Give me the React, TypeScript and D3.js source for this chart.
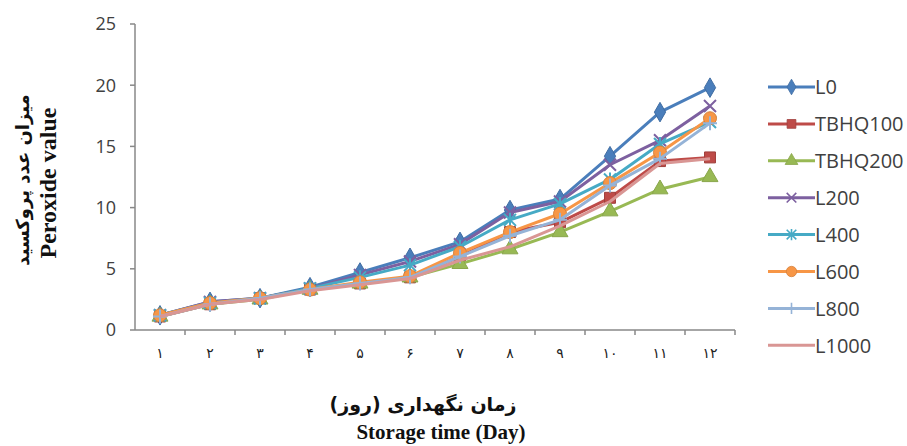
import React from "react";
import * as d3 from "d3";

// Storage days (Persian numerals on the axis)
const days = [1, 2, 3, 4, 5, 6, 7, 8, 9, 10, 11, 12];
const dayLabels = ["۱", "۲", "۳", "۴", "۵", "۶", "۷", "۸", "۹", "۱۰", "۱۱", "۱۲"];
const yTicks = [0, 5, 10, 15, 20, 25];

// Peroxide value per treatment
const L0 = [1.2, 2.3, 2.6, 3.5, 4.7, 5.9, 7.2, 9.8, 10.7, 14.2, 17.8, 19.8];
const TBHQ100 = [1.1, 2.1, 2.6, 3.3, 3.8, 4.3, 6.0, 8.0, 8.8, 10.8, 13.8, 14.1];
const TBHQ200 = [1.1, 2.1, 2.5, 3.3, 3.8, 4.3, 5.4, 6.6, 8.0, 9.7, 11.5, 12.5];
const L200 = [1.2, 2.3, 2.6, 3.4, 4.5, 5.6, 7.0, 9.6, 10.5, 13.5, 15.5, 18.3];
const L400 = [1.2, 2.2, 2.6, 3.4, 4.3, 5.3, 6.8, 9.0, 10.3, 12.3, 15.2, 17.0];
const L600 = [1.2, 2.2, 2.6, 3.3, 3.9, 4.4, 6.3, 8.0, 9.5, 12.0, 14.5, 17.3];
const L800 = [1.1, 2.1, 2.6, 3.3, 3.8, 4.3, 6.0, 7.7, 9.0, 11.8, 14.0, 16.9];
const L1000 = [1.1, 2.1, 2.5, 3.2, 3.7, 4.2, 5.7, 6.8, 8.5, 10.5, 13.6, 14.0];

type MarkerKind = "diamond" | "square" | "triangle" | "x" | "asterisk" | "circle" | "plus" | "none";

const series: { name: string; values: number[]; color: string; marker: MarkerKind }[] = [
  { name: "L0", values: L0, color: "#4A7EBB", marker: "diamond" },
  { name: "TBHQ100", values: TBHQ100, color: "#BE4B48", marker: "square" },
  { name: "TBHQ200", values: TBHQ200, color: "#98B954", marker: "triangle" },
  { name: "L200", values: L200, color: "#7D60A0", marker: "x" },
  { name: "L400", values: L400, color: "#46AAC5", marker: "asterisk" },
  { name: "L600", values: L600, color: "#F79646", marker: "circle" },
  { name: "L800", values: L800, color: "#95B3D7", marker: "plus" },
  { name: "L1000", values: L1000, color: "#D99694", marker: "none" },
];

const W = 907;
const H = 446;
const plotLeft = 135;
const plotRight = 735;
const plotTop = 24;
const plotBottom = 330;

const x = d3.scaleBand<number>().domain(days).range([plotLeft, plotRight]).paddingInner(0).paddingOuter(0);
const y = d3.scaleLinear().domain([0, 25]).range([plotBottom, plotTop]);
const cx = (d: number) => (x(d) as number) + x.bandwidth() / 2;

function Marker({ kind, color, px, py, k = 1 }: { kind: MarkerKind; color: string; px: number; py: number; k?: number }) {
  const t = `translate(${px},${py}) scale(${k})`;
  switch (kind) {
    case "diamond":
      return <path transform={t} d={d3.symbol(d3.symbolDiamond, 110)() as string} fill={color} stroke={d3.color(color)!.darker(0.4).toString()} strokeWidth={1} />;
    case "square":
      return <path transform={t} d={d3.symbol(d3.symbolSquare, 120)() as string} fill={color} stroke={d3.color(color)!.darker(0.5).toString()} strokeWidth={1} />;
    case "triangle":
      return <path transform={t} d={d3.symbol(d3.symbolTriangle, 110)() as string} fill={color} stroke={d3.color(color)!.darker(0.3).toString()} strokeWidth={1} />;
    case "circle":
      return <circle transform={t} r={6.5} fill={color} stroke={d3.color(color)!.darker(0.4).toString()} strokeWidth={1} />;
    case "x": {
      const r = 6;
      return <path transform={t} d={`M${-r},${-r}L${r},${r}M${-r},${r}L${r},${-r}`} stroke={color} strokeWidth={2} fill="none" />;
    }
    case "asterisk": {
      const r = 6;
      return (
        <path transform={t} d={`M${-r},${-r}L${r},${r}M${-r},${r}L${r},${-r}M0,${-r - 1}L0,${r + 1}`} stroke={color} strokeWidth={2} fill="none" />
      );
    }
    case "plus": {
      const r = 7;
      return <path transform={t} d={`M${-r},0L${r},0M0,${-r}L0,${r}`} stroke={color} strokeWidth={2} fill="none" />;
    }
    default:
      return null;
  }
}

export default function App() {
  const line = d3
    .line<number>()
    .x((_, i) => cx(days[i]))
    .y((v) => y(v));

  const legendX = 768;
  const legendY0 = 87;
  const legendStep = 36.9;
  const axisColor = "#888888";

  return (
    <svg width={W} height={H} style={{ position: "absolute", left: 0, top: 0, background: "#fff" }}>
      {/* y axis */}
      <line x1={plotLeft} x2={plotLeft} y1={plotTop} y2={plotBottom} stroke={axisColor} strokeWidth={1.5} />
      {yTicks.map((t) => (
        <g key={t}>
          <line x1={plotLeft - 5} x2={plotLeft} y1={y(t)} y2={y(t)} stroke={axisColor} strokeWidth={1.5} />
          <text x={116} y={y(t)} dy="0.35em" textAnchor="end" fontFamily="'Open Sans', sans-serif" fontSize={18} fill="#404040">
            {t}
          </text>
        </g>
      ))}
      {/* x axis */}
      <line x1={plotLeft} x2={plotRight} y1={plotBottom} y2={plotBottom} stroke={axisColor} strokeWidth={1.5} />
      {days.map((d) => (
        <line key={d} x1={(x(d) as number) + x.bandwidth()} x2={(x(d) as number) + x.bandwidth()} y1={plotBottom} y2={plotBottom + 5} stroke={axisColor} strokeWidth={1.5} />
      ))}
      {days.map((d, i) => (
        <text key={d} x={cx(d)} y={353} dy="0.35em" textAnchor="middle" fontFamily="'DejaVu Sans', sans-serif" fontSize={14} fill="#222">
          {dayLabels[i]}
        </text>
      ))}

      {/* series lines and markers */}
      {series.map((s) => (
        <g key={s.name}>
          <path d={line(s.values) as string} fill="none" stroke={s.color} strokeWidth={3} strokeLinejoin="round" />
          {s.values.map((v, i) => (
            <Marker key={i} kind={s.marker} color={s.color} px={cx(days[i])} py={y(v)} />
          ))}
        </g>
      ))}

      {/* legend */}
      {series.map((s, i) => {
        const ly = legendY0 + i * legendStep;
        return (
          <g key={s.name}>
            <line x1={legendX} x2={legendX + 47} y1={ly} y2={ly} stroke={s.color} strokeWidth={3} />
            <Marker kind={s.marker} color={s.color} px={legendX + 23.5} py={ly} k={0.8} />
            <text x={legendX + 47} y={ly} dy="0.36em" fontFamily="'Open Sans', sans-serif" fontSize={20} fill="#404040">
              {s.name}
            </text>
          </g>
        );
      })}

      {/* y axis title */}
      <g transform="translate(23,180) rotate(-90)">
        <text x={0} y={0} textAnchor="middle" dy="0.35em" fontFamily="'DejaVu Sans', sans-serif" fontWeight="bold" fontSize={18} fill="#111" direction="rtl">
          میزان عدد پروکسید
        </text>
      </g>
      <g transform="translate(48,183) rotate(-90)">
        <text x={0} y={0} textAnchor="middle" dy="0.35em" fontFamily="'Liberation Serif', 'Times New Roman', serif" fontWeight="bold" fontSize={24} fill="#111">
          Peroxide value
        </text>
      </g>

      {/* x axis title */}
      <text x={423} y={404} dy="0.35em" textAnchor="middle" fontFamily="'DejaVu Sans', sans-serif" fontWeight="bold" fontSize={19} fill="#111" direction="rtl">
        زمان نگهداری (روز)
      </text>
      <text x={441} y={432} dy="0.35em" textAnchor="middle" fontFamily="'Liberation Serif', 'Times New Roman', serif" fontWeight="bold" fontSize={21} fill="#111">
        Storage time (Day)
      </text>
    </svg>
  );
}
